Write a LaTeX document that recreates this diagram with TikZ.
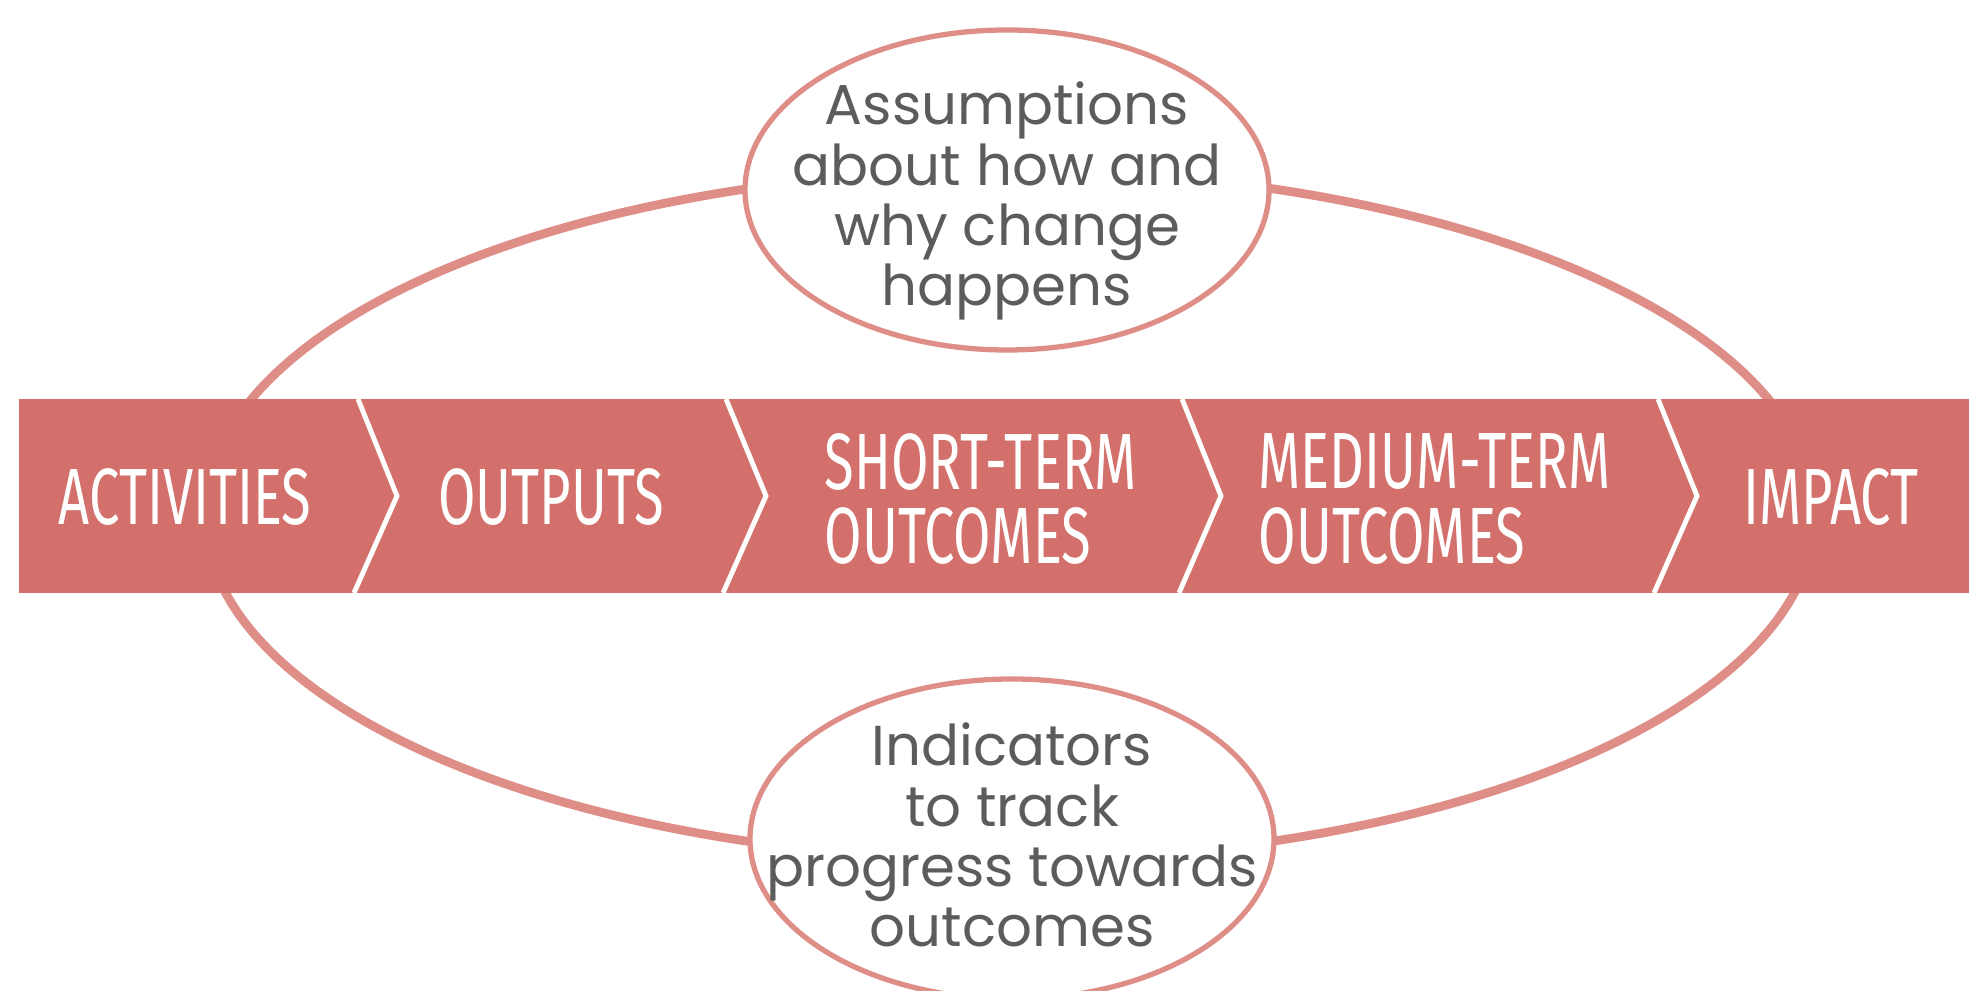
\documentclass[tikz,border=0pt]{standalone}
\usepackage{fontspec}
\usetikzlibrary{shapes.geometric}
\newfontfamily\bandfont[FakeStretch=0.68]{Fira Sans}
\newfontfamily\notefont{Poppins}
\definecolor{bandred}{HTML}{D4706B}
\definecolor{looppink}{HTML}{DE8E87}
\definecolor{notegrey}{HTML}{5B5D5A}

\begin{document}
\begin{tikzpicture}[
    stage/.style={font=\bandfont\fontsize{22.7}{21.3}\selectfont, text=white, align=left, inner sep=0pt},
    note/.style={ellipse, draw=looppink, line width=1.5pt, fill=white, minimum width=5.24cm, minimum height=3.20cm, inner sep=0pt},
    notetext/.style={font=\notefont\fontsize{16}{17.1}\selectfont, text=notegrey, align=center, inner sep=0pt}]
    \clip (0,0) rectangle (19.69,9.90);

    % Outer loop behind the band
    \draw[looppink, line width=2.5pt] (10.10,4.75) ellipse [x radius=8.05, y radius=3.45];

    % Band
    \fill[bandred] (0.19,3.97) rectangle (19.69,5.91);

    % Chevron separators
    \draw[white, line width=1.4pt] (3.58,5.91) -- (3.97,4.94) -- (3.54,3.97);
    \draw[white, line width=1.4pt] (7.26,5.91) -- (7.66,4.94) -- (7.23,3.97);
    \draw[white, line width=1.4pt] (11.82,5.91) -- (12.21,4.94) -- (11.79,3.97);
    \draw[white, line width=1.4pt] (16.58,5.91) -- (16.97,4.94) -- (16.54,3.97);

    % Stage labels
    \node[stage] (act) at (1.85,4.93) {ACTIVITIES};
    \node[stage] (out) at (5.51,4.93) {OUTPUTS};
    \node[stage, anchor=west] (short) at (8.24,4.91) {SHORT-TERM\\OUTCOMES};
    \node[stage, anchor=west] (medium) at (12.58,4.91) {MEDIUM-TERM\\OUTCOMES};
    \node[stage] (impact) at (18.31,4.93) {IMPACT};

    % Notes on the loop
    \node[note] (assume) at (10.07,8.00) {};
    \node[notetext] (assumetext) at (10.07,7.89) {Assumptions\\about how and\\why change\\happens};
    \node[note] (track) at (10.12,1.51) {};
    \node[notetext] (tracktext) at (10.12,1.55) {Indicators\\to track\\progress towards\\outcomes};
\end{tikzpicture}
\end{document}
